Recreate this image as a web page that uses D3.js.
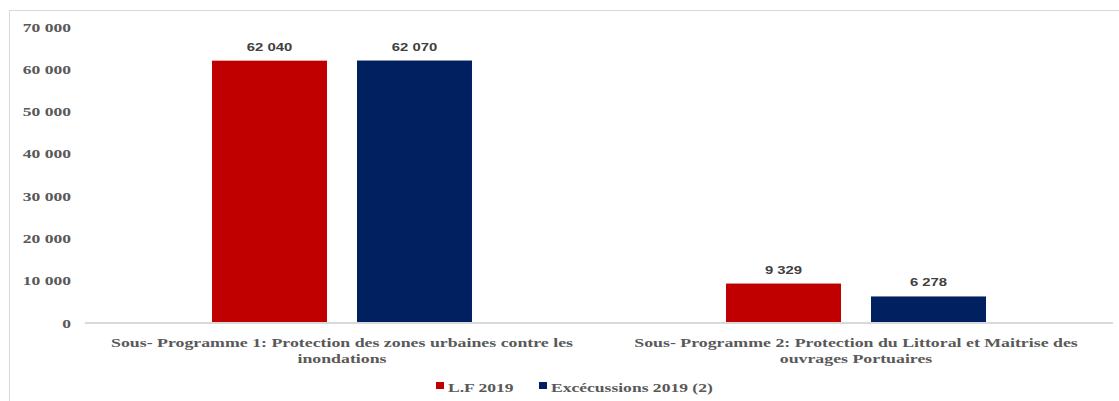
<!DOCTYPE html>
<html>
<head>
<meta charset="utf-8">
<script src="https://cdn.jsdelivr.net/npm/d3@7"></script>
<style>
  html, body { margin: 0; padding: 0; background: #fff; }
  svg { display: block; }
</style>
</head>
<body>
<svg id="chart" width="1119" height="401"></svg>
<script>
// Budget per sub-programme, 2019
const categories = [
  "Sous- Programme 1: Protection des zones urbaines contre les inondations",
  "Sous- Programme 2: Protection du Littoral et Maitrise des ouvrages Portuaires"
];
const categoryLines = [
  ["Sous- Programme 1: Protection des zones urbaines contre les", "inondations"],
  ["Sous- Programme 2: Protection du Littoral et Maitrise des", "ouvrages Portuaires"]
];
const seriesNames = ["L.F 2019", "Excécussions 2019 (2)"];
const lf2019 = [62040, 9329];
const exec2019 = [62070, 6278];
const yTicks = [0, 10000, 20000, 30000, 40000, 50000, 60000, 70000];

const seriesValues = [lf2019, exec2019];
const colors = ["#C00000", "#002060"];
const stretch = 1.35; // text is drawn widened horizontally

const fr = d3.formatLocale({ decimal: ",", thousands: " ", grouping: [3], currency: ["", ""] });
const fmt = fr.format(",.0f");

const svg = d3.select("#chart");
const plot = { left: 85, right: 1113, top: 27, bottom: 323 };

// chart frame
svg.append("rect")
  .attr("x", 9.5).attr("y", 10.5)
  .attr("width", 1200).attr("height", 500)
  .attr("fill", "none").attr("stroke", "#d9d9d9").attr("stroke-width", 1);

const x0 = d3.scaleBand().domain(categories).range([plot.left, plot.right]);
const x1 = d3.scaleBand().domain(seriesNames).range([0, x0.bandwidth()])
  .paddingInner(0.207).paddingOuter(0.876);
const y = d3.scaleLinear().domain([0, 70000]).range([plot.bottom, plot.top]);

function stretchedText(sel, tx, ty) {
  return sel.attr("transform", `translate(${tx},${ty}) scale(${stretch},1)`);
}

// y tick labels
const yAxis = svg.append("g");
yTicks.forEach(t => {
  stretchedText(yAxis.append("text"), 71, y(t) + 4.5)
    .attr("text-anchor", "end")
    .attr("font-family", "Liberation Serif, Times New Roman, serif")
    .attr("font-weight", "bold")
    .attr("font-size", 13)
    .attr("fill", "#595959")
    .text(fmt(t));
});

// bars
const groups = svg.append("g").selectAll("g")
  .data(categories)
  .join("g")
  .attr("transform", d => `translate(${x0(d)},0)`);

groups.each(function(cat, ci) {
  const g = d3.select(this);
  seriesNames.forEach((s, si) => {
    const v = seriesValues[si][ci];
    g.append("rect")
      .attr("x", x1(s))
      .attr("y", y(v))
      .attr("width", x1.bandwidth())
      .attr("height", y(0) - y(v))
      .attr("fill", colors[si]);
    stretchedText(g.append("text"), x1(s) + x1.bandwidth() / 2, y(v) - 10)
      .attr("text-anchor", "middle")
      .attr("font-family", "Liberation Sans, Arial, sans-serif")
      .attr("font-weight", "bold")
      .attr("font-size", 11)
      .attr("fill", "#404040")
      .text(fmt(v));
  });
});

// category axis line
svg.append("line")
  .attr("x1", plot.left).attr("x2", plot.right)
  .attr("y1", y(0)).attr("y2", y(0))
  .attr("stroke", "#d9d9d9").attr("stroke-width", 2);

// category labels
categories.forEach((c, i) => {
  const cx = x0(c) + x0.bandwidth() / 2;
  categoryLines[i].forEach((line, li) => {
    stretchedText(svg.append("text"), cx, 346.5 + li * 16.5)
      .attr("text-anchor", "middle")
      .attr("font-family", "Liberation Serif, Times New Roman, serif")
      .attr("font-weight", "bold")
      .attr("font-size", 13.2)
      .attr("fill", "#595959")
      .text(line);
  });
});

// legend
const legend = svg.append("g");
const legendX = [436, 539];
seriesNames.forEach((s, i) => {
  legend.append("rect")
    .attr("x", legendX[i]).attr("y", 382)
    .attr("width", 8).attr("height", 7)
    .attr("fill", colors[i]);
  stretchedText(legend.append("text"), legendX[i] + 12, 391.5)
    .attr("font-family", "Liberation Serif, Times New Roman, serif")
    .attr("font-weight", "bold")
    .attr("font-size", 13)
    .attr("fill", "#595959")
    .text(s);
});
</script>
</body>
</html>
